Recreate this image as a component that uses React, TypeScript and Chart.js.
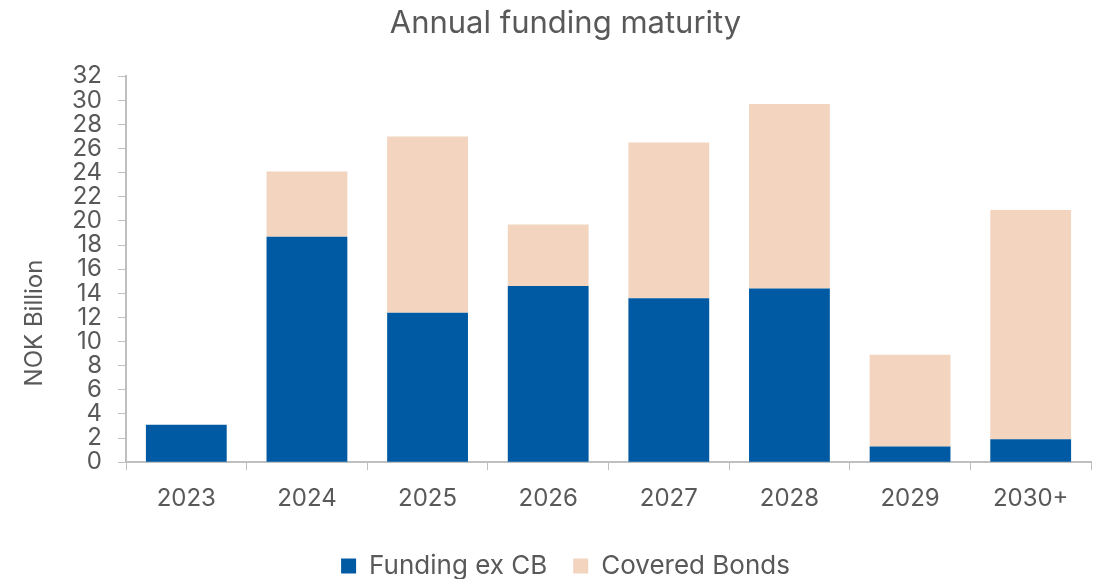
import React, { useEffect, useRef } from "react";
import { Chart, registerables } from "chart.js";

Chart.register(...registerables);

const categories = ["2023", "2024", "2025", "2026", "2027", "2028", "2029", "2030+"];
const fundingExCB = [3.1, 18.7, 12.4, 14.6, 13.6, 14.4, 1.3, 1.9];
const coveredBonds = [0, 5.4, 14.6, 5.1, 12.9, 15.3, 7.6, 19.0];
const chartTitle = "Annual funding maturity";
const yAxisTitle = "NOK Billion";

const FONT = "Inter";
const TEXT = "#595959";
const AXIS = "#BFBFBF";

const yTitlePlugin = {
  id: "yTitlePlugin",
  afterDraw(chart: any) {
    const ctx = chart.ctx;
    ctx.save();
    ctx.translate(35, 323);
    ctx.rotate(-Math.PI / 2);
    ctx.font = `24px ${FONT}`;
    ctx.fillStyle = TEXT;
    ctx.textAlign = "center";
    ctx.textBaseline = "middle";
    ctx.fillText(yAxisTitle, 0, 0);
    ctx.restore();
  },
};

export default function App() {
  const ref = useRef<HTMLCanvasElement>(null);
  useEffect(() => {
    document.body.style.margin = "0";
    const chart = new Chart(ref.current!, {
      type: "bar",
      data: {
        labels: categories,
        datasets: [
          { label: "Funding ex CB", data: fundingExCB, backgroundColor: "#005AA3", categoryPercentage: 0.67, barPercentage: 1 },
          { label: "Covered Bonds", data: coveredBonds, backgroundColor: "#F2D4BF", categoryPercentage: 0.67, barPercentage: 1 },
        ],
      },
      options: {
        animation: false,
        responsive: false,
        layout: { padding: { left: 40, right: 10, top: 0, bottom: -10 } },
        plugins: {
          title: {
            display: true,
            text: chartTitle,
            color: TEXT,
            font: { family: FONT, size: 31, weight: "normal" },
            padding: { top: 5, bottom: 34 },
          },
          legend: {
            position: "bottom",
            labels: {
              color: TEXT,
              font: { family: FONT, size: 26 },
              boxWidth: 15,
              boxHeight: 15,
              padding: 26,
            },
          },
          tooltip: { enabled: false },
        },
        scales: {
          x: {
            stacked: true,
            grid: { drawOnChartArea: false, tickLength: 8, color: AXIS, offset: true },
            border: { color: AXIS, width: 2 },
            ticks: { color: TEXT, font: { family: FONT, size: 24 }, padding: 14 },
          },
          y: {
            stacked: true,
            min: 0,
            max: 32,
            grid: { drawOnChartArea: false, tickLength: 8, color: AXIS },
            border: { color: AXIS, width: 2 },
            ticks: { stepSize: 2, autoSkip: false, color: TEXT, font: { family: FONT, size: 24 }, padding: 16 },
            afterFit(scale: any) {
              scale.width = 86;
            },
          },
        },
      },
      plugins: [yTitlePlugin],
    });
    return () => chart.destroy();
  }, []);
  return (
    <div style={{ position: "absolute", left: 0, top: 0, width: 1101, height: 579 }}>
      <canvas ref={ref} width={1101} height={579} />
    </div>
  );
}
